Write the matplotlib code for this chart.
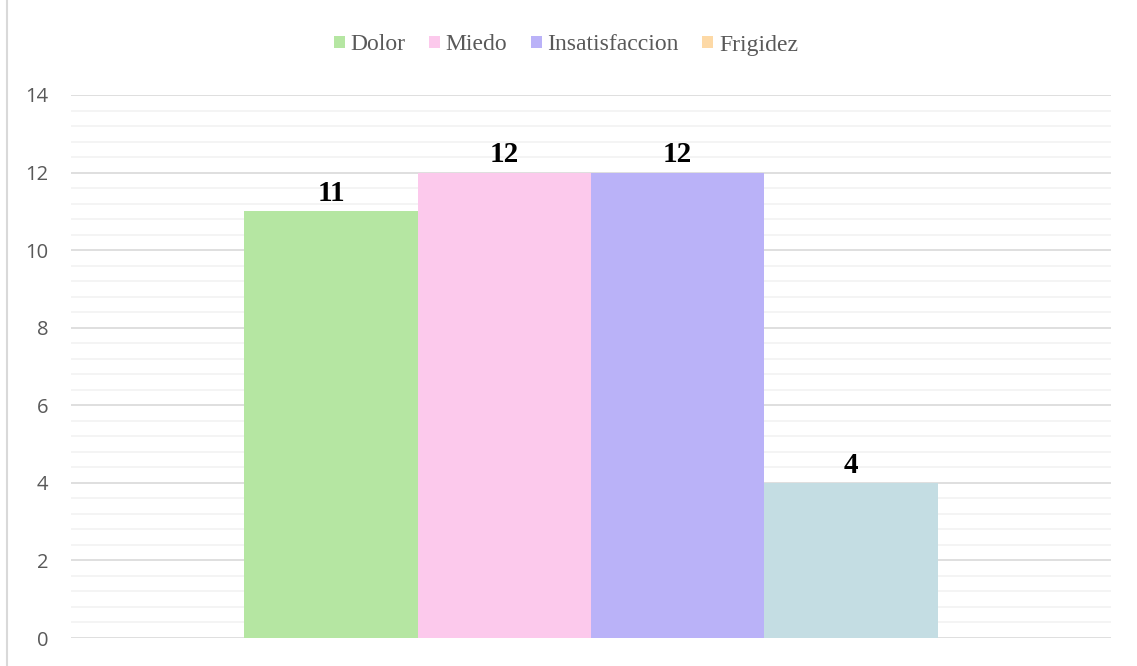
import matplotlib.pyplot as plt
from matplotlib.patches import Patch
from matplotlib.ticker import MultipleLocator
from matplotlib.lines import Line2D

# data
categories = ['Dolor', 'Miedo', 'Insatisfaccion', 'Frigidez']
values = [11, 12, 12, 4]
bar_colors = ['#b5e6a2', '#fcc9ec', '#bab2f8', '#c4dde3']
legend_colors = ['#b5e6a2', '#fcc9ec', '#bab2f8', '#fdd9a6']

fig = plt.figure(figsize=(11.37, 6.66), dpi=100)
ax = fig.add_axes([71 / 1137, 1 - 638 / 666, (1111 - 71) / 1137, (638 - 95) / 666])

x = list(range(len(categories)))
bars = ax.bar(x, values, width=1.0, color=bar_colors, zorder=3)

ax.set_xlim(-1.5, 4.5)
ax.set_ylim(0, 14)
ax.yaxis.set_major_locator(MultipleLocator(2))
ax.yaxis.set_minor_locator(MultipleLocator(0.4))
ax.grid(axis='y', which='major', color='#d9d9d9', linewidth=1.2, zorder=0)
ax.grid(axis='y', which='minor', color='#f2f2f2', linewidth=1.2, zorder=0)
ax.set_xticks([])
ax.tick_params(axis='y', which='both', length=0, pad=16.5, labelcolor='#595959', labelsize=14.5)
for lab in ax.get_yticklabels():
    lab.set_family('Open Sans')
for s in ax.spines.values():
    s.set_visible(False)

# value labels
for b, v in zip(bars, values):
    ax.annotate(str(v), (b.get_x() + b.get_width() / 2, v), xytext=(0, 3),
                textcoords='offset points', ha='center', va='bottom',
                fontsize=21, fontweight='bold', family='Liberation Serif', color='black')

# legend
handles = [Patch(facecolor=c, edgecolor='none') for c in legend_colors]
fig.legend(handles, categories, loc='center', bbox_to_anchor=(566 / 1137, 1 - 45 / 666),
           ncol=4, frameon=False, handlelength=0.45, handleheight=0.45, handletextpad=0.25,
           columnspacing=1.0, prop={'family': 'Liberation Serif', 'size': 17},
           labelcolor='#595959')

# chart area left border
fig.add_artist(Line2D([7 / 1137, 7 / 1137], [0, 1], transform=fig.transFigure,
                      color='#d9d9d9', linewidth=1.5))

fig.savefig('out.png', dpi=100)
